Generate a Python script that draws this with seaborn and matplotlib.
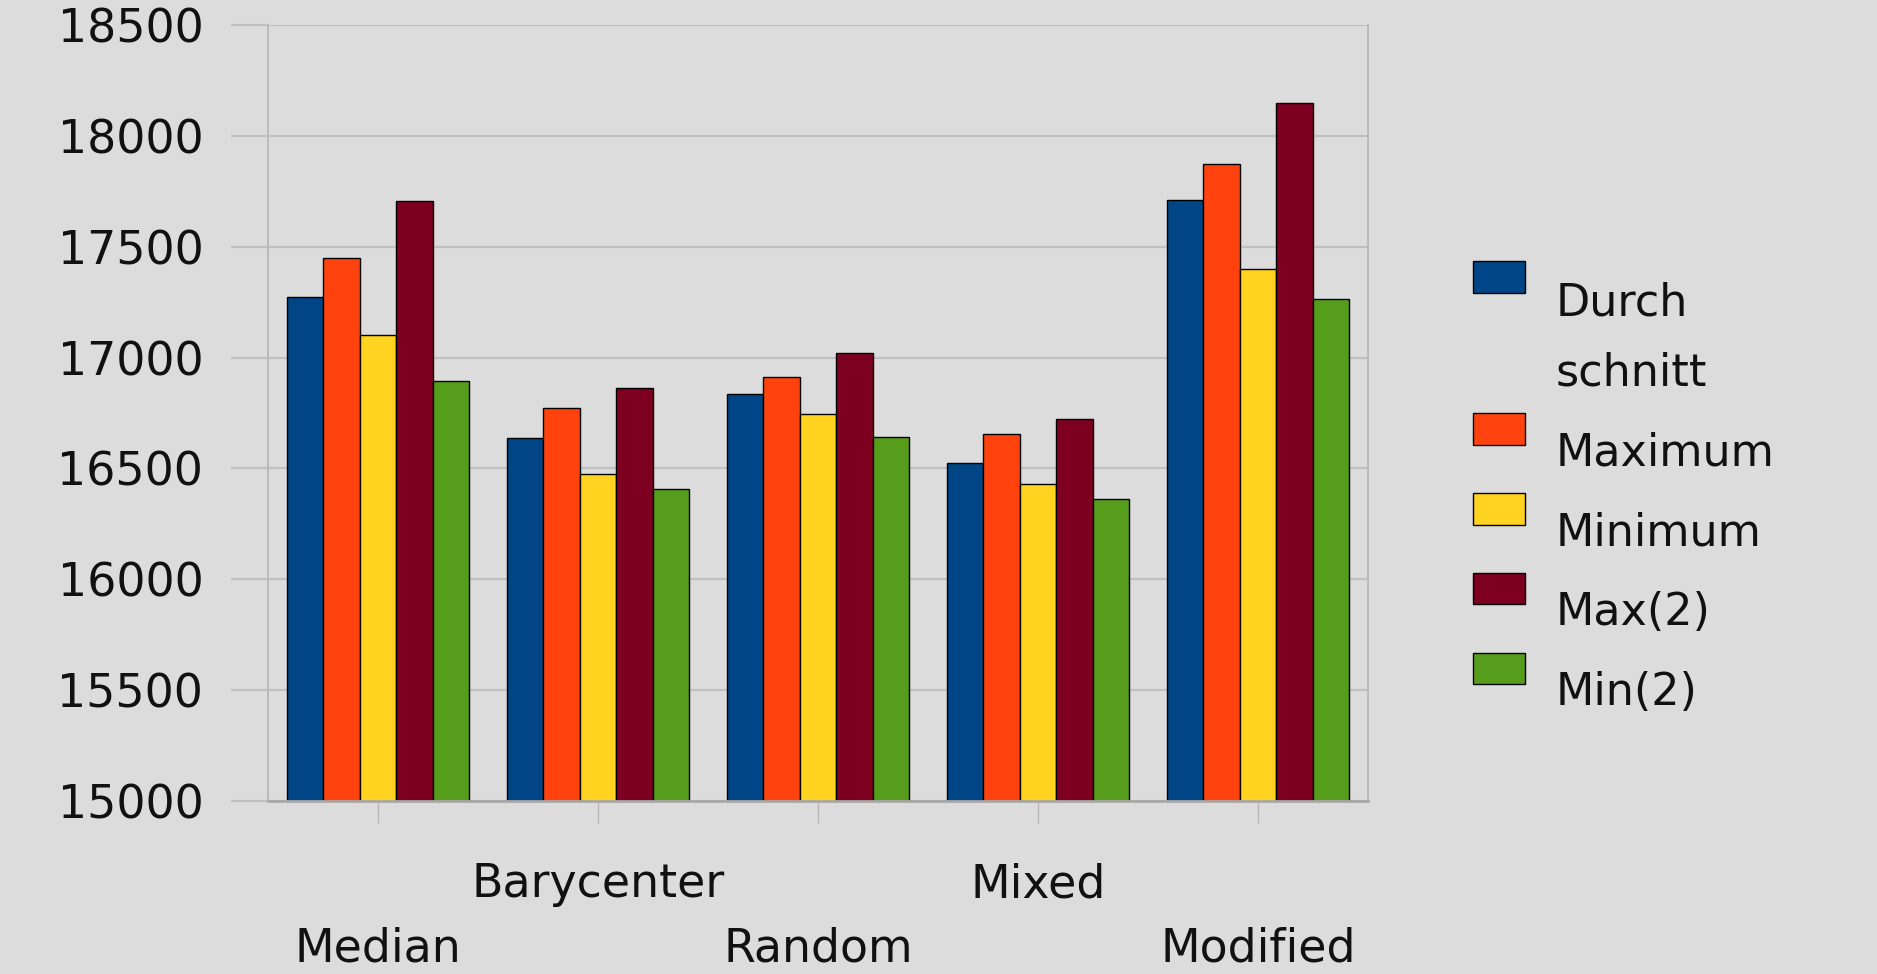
import matplotlib
matplotlib.use("Agg")
import matplotlib.pyplot as plt
from matplotlib.patches import Rectangle
from matplotlib.legend_handler import HandlerPatch
import seaborn as sns
import pandas as pd

methods = ["Median", "Barycenter", "Random", "Mixed", "Modified"]
series = ["Durch\nschnitt", "Maximum", "Minimum", "Max(2)", "Min(2)"]
durchschnitt = [17272, 16637, 16835, 16525, 17710]
maximum = [17448, 16773, 16913, 16655, 17872]
minimum = [17101, 16474, 16745, 16429, 17400]
max2 = [17705, 16862, 17021, 16725, 18147]
min2 = [16896, 16407, 16644, 16361, 17263]
yticks = [15000, 15500, 16000, 16500, 17000, 17500, 18000, 18500]
colors = ["#004586", "#ff420e", "#ffd320", "#7e0021", "#579d1c"]

rows = []
for name, vals in zip(series, [durchschnitt, maximum, minimum, max2, min2]):
    for m, v in zip(methods, vals):
        rows.append({"method": m, "stat": name, "value": v})
df = pd.DataFrame(rows)

bg = "#dcdcdc"
grid = "#c0c0c0"
sns.set_theme(style="white", rc={"axes.facecolor": bg, "figure.facecolor": bg})
plt.rcParams["font.family"] = ["DejaVu Sans"]

fig = plt.figure(figsize=(18.77, 9.74), dpi=100)
ax = fig.add_axes([0.1428, 0.1776, 0.7288 - 0.1428, 0.9743 - 0.1776])

sns.barplot(data=df, x="method", y="value", hue="stat", palette=colors,
            width=0.83, edgecolor="black", linewidth=1.0, saturation=1,
            ax=ax)

ax.set_ylim(15000, 18500)
ax.set_yticks(yticks)
ax.set_yticklabels([str(t) for t in yticks])
ax.set_xlabel("")
ax.set_ylabel("")
ax.yaxis.grid(True, color=grid, linewidth=1.6)
ax.set_axisbelow(True)

for side in ["left", "right"]:
    ax.spines[side].set_color("#b8b8b8")
    ax.spines[side].set_linewidth(1.3)
ax.spines["top"].set_visible(False)
ax.spines["bottom"].set_color("#a8a8a8")
ax.spines["bottom"].set_linewidth(2.0)

ax.tick_params(axis="y", length=26.6, width=1.6, color=grid, pad=20,
               labelsize=33, labelcolor="#111111", left=True)
ax.tick_params(axis="x", length=16, width=1.0, color="#b8b8b8", pad=28,
               labelsize=33, labelcolor="#111111", bottom=True, direction="out")

# staggered category labels: alternate rows
for i, tick in enumerate(ax.xaxis.get_major_ticks()):
    if i % 2 == 0:
        tick.set_pad(28 + 46)


def raised_box(dy):
    def make(legend, orig_handle, xdescent, ydescent, width, height, fontsize):
        return Rectangle((-xdescent, -ydescent + dy), width, height)
    return HandlerPatch(patch_func=make)


handles, labels = ax.get_legend_handles_labels()
hmap = {h: raised_box(15) for h in handles}
hmap[handles[0]] = raised_box(45)
leg = ax.legend(handles, labels, loc="upper left", bbox_to_anchor=(0.7848, 0.711),
                bbox_transform=fig.transFigure, frameon=False, fontsize=32,
                handlelength=1.17, handleheight=0.72, handletextpad=0.68,
                labelspacing=0.83, borderpad=0, borderaxespad=0,
                labelcolor="#111111", handler_map=hmap)
for t in leg.get_texts():
    t.set_linespacing(1.79)

fig.savefig("out.png", dpi=100, facecolor=bg)
